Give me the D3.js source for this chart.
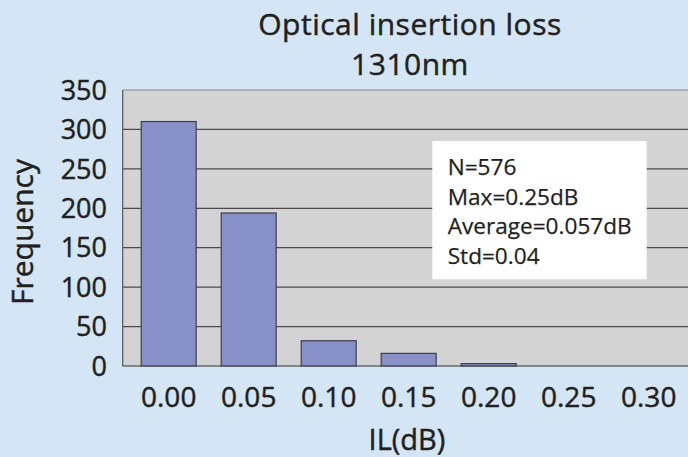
<!DOCTYPE html>
<html>
<head>
<meta charset="utf-8">
<script src="https://cdn.jsdelivr.net/npm/d3@7/dist/d3.min.js"></script>
<style>
  html, body { margin: 0; padding: 0; background: #d4e6f5; }
  svg { display: block; }
  text { font-family: "Open Sans", "Noto Sans", sans-serif; fill: #231f20; stroke: #231f20; stroke-width: 0.45px; }
  text.stat { stroke-width: 0.25px; }
</style>
</head>
<body>
<div id="chart"></div>
<script>
const categories = ["0.00", "0.05", "0.10", "0.15", "0.20", "0.25", "0.30"];
const frequency = [310, 194, 32, 16, 3, 0, 0];
const yTicks = [0, 50, 100, 150, 200, 250, 300, 350];
const titleLines = ["Optical insertion loss", "1310nm"];
const statsLines = ["N=576", "Max=0.25dB", "Average=0.057dB", "Std=0.04"];
const xLabel = "IL(dB)";
const yLabel = "Frequency";

const W = 688, H = 457;
const plot = { left: 122.7, top: 90, right: 688, bottom: 366 };

const svg = d3.select("#chart").append("svg")
  .attr("width", W).attr("height", H);

svg.append("rect").attr("width", W).attr("height", H).attr("fill", "#d4e6f5");

const x = d3.scaleBand()
  .domain(categories)
  .range([128.7, 688.7])
  .paddingInner(0.3125)
  .paddingOuter(0.15625);

const y = d3.scaleLinear().domain([0, 350]).range([plot.bottom, plot.top]);

// plot background
svg.append("rect")
  .attr("x", plot.left).attr("y", plot.top)
  .attr("width", plot.right - plot.left).attr("height", plot.bottom - plot.top)
  .attr("fill", "#d3d3d3");

// gridlines
svg.append("g").selectAll("line").data(yTicks.filter(d => d > 0)).join("line")
  .attr("x1", plot.left).attr("x2", plot.right)
  .attr("y1", d => y(d)).attr("y2", d => y(d))
  .attr("stroke", d => d === 350 ? "#8a8a8a" : "#4a4a4a")
  .attr("stroke-width", 1.2);

// axes lines
svg.append("line")
  .attr("x1", plot.left).attr("x2", plot.left)
  .attr("y1", plot.top).attr("y2", plot.bottom)
  .attr("stroke", "#555").attr("stroke-width", 1.2);
svg.append("line")
  .attr("x1", plot.left).attr("x2", plot.right)
  .attr("y1", plot.bottom).attr("y2", plot.bottom)
  .attr("stroke", "#333").attr("stroke-width", 1.2);

// bars
svg.append("g").selectAll("rect").data(categories.map((c, i) => ({ c, v: frequency[i] })).filter(d => d.v > 0))
  .join("rect")
  .attr("x", d => x(d.c))
  .attr("y", d => y(d.v))
  .attr("width", x.bandwidth())
  .attr("height", d => y(0) - y(d.v))
  .attr("fill", "#8890c8")
  .attr("stroke", "#3e3e4a")
  .attr("stroke-width", 1.2);

// y tick labels
svg.append("g").selectAll("text").data(yTicks).join("text")
  .attr("x", 107)
  .attr("y", d => y(d))
  .attr("dy", "0.36em")
  .attr("text-anchor", "end")
  .attr("font-size", 27)
  .text(d => d);

// x tick labels
svg.append("g").selectAll("text").data(categories).join("text")
  .attr("x", d => x(d) + x.bandwidth() / 2)
  .attr("y", 406.7)
  .attr("text-anchor", "middle")
  .attr("font-size", 28)
  .text(d => d);

// title
svg.append("g").selectAll("text").data(titleLines).join("text")
  .attr("x", 410)
  .attr("y", (d, i) => 35 + i * 40)
  .attr("text-anchor", "middle")
  .attr("font-size", 30)
  .attr("letter-spacing", 0.5)
  .text(d => d);

// axis titles
svg.append("text")
  .attr("x", 407).attr("y", 450)
  .attr("text-anchor", "middle")
  .attr("font-size", 29)
  .text(xLabel);

svg.append("text")
  .attr("transform", "translate(33.3,232) rotate(-90)")
  .attr("text-anchor", "middle")
  .attr("font-size", 30)
  .text(yLabel);

// stats box
svg.append("rect")
  .attr("x", 432.3).attr("y", 141)
  .attr("width", 214.4).attr("height", 138.3)
  .attr("fill", "#ffffff");

svg.append("g").selectAll("text").data(statsLines).join("text")
  .attr("class", "stat")
  .attr("x", 447.7)
  .attr("y", (d, i) => 175 + i * 29.5)
  .attr("font-size", 22.6)
  .text(d => d);
</script>
</body>
</html>
